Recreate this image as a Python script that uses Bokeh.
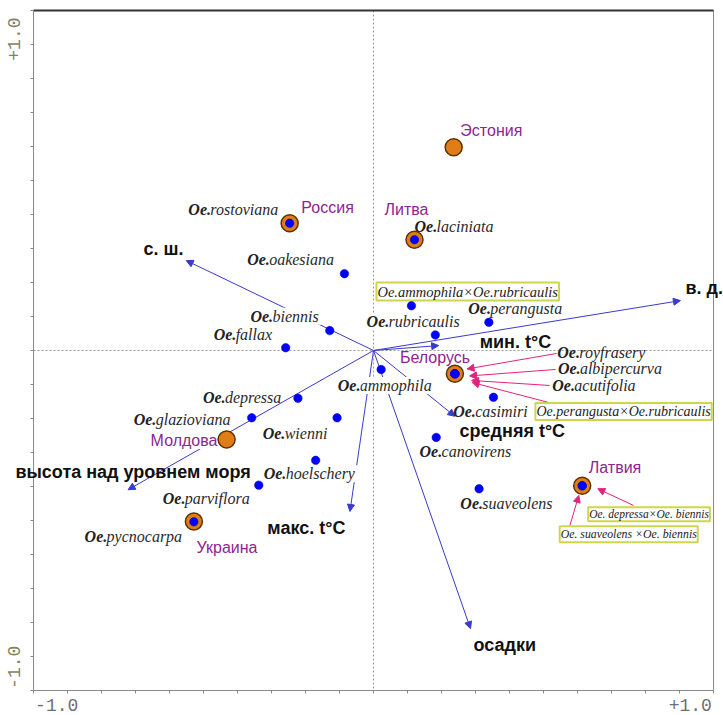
from bokeh.plotting import figure
from bokeh.models import (Range1d, FixedTicker, CustomJSTickFormatter, LinearAxis, Span,
                          ColumnDataSource, Arrow, NormalHead)
from bokeh.core.properties import value
from bokeh.embed import file_html
from bokeh.resources import INLINE

# ---------------- data (ordination scores) ----------------
species_labels = ["Oe.rostoviana", "Oe. oakesiana", "Oe. biennis", "Oe. fallax",
                  "Oe. laciniata", "Oe.perangusta", "Oe.rubricaulis", "Oe.ammophila",
                  "Oe. casimiri", "Oe. canovirens", "Oe. suaveolens", "Oe. depressa",
                  "Oe. glazioviana", "Oe. wienni", "Oe. hoelschery", "Oe.parviflora",
                  "Oe. pycnocarpa", "Oe.royfrasery", "Oe.albipercurva", "Oe.acutifolia"]
species_x = [-0.274, -0.095, -0.143, -0.287, 0.134, 0.377, 0.202, 0.025,
             0.392, 0.205, 0.345, -0.247, -0.398, -0.119, -0.189, -0.375,
             -0.587, 0.266, 0.266, 0.266]
species_y = [0.416, 0.251, 0.065, 0.009, 0.362, 0.092, 0.051, -0.062,
             -0.153, -0.284, -0.452, -0.156, -0.220, -0.220, -0.359, -0.440,
             -0.560, -0.076, -0.076, -0.076]

hybrid_labels = ["Oe.ammophila×Oe.rubricaulis", "Oe.perangusta×Oe.rubricaulis",
                 "Oe. depressa×Oe. biennis", "Oe. suaveolens ×Oe. biennis"]
hybrid_x = [0.124, 0.266, 0.682, 0.682]
hybrid_y = [0.146, -0.076, -0.442, -0.442]

country_labels = ["Россия", "Эстония", "Литва", "Белорусь", "Латвия", "Молдова", "Украина"]
country_x = [-0.274, 0.262, 0.134, 0.266, 0.682, -0.480, -0.587]
country_y = [0.416, 0.664, 0.362, -0.076, -0.442, -0.291, -0.559]

env_labels = ["с. ш.", "в. д.", "мин. t°C", "средняя t°C", "осадки", "макс. t°C",
              "высота над уровнем моря"]
env_x = [-0.612, 1.003, 0.213, 0.266, 0.317, -0.077, -0.802]
env_y = [0.294, 0.163, 0.016, -0.215, -0.909, -0.526, -0.455]

# ---------------- layout (label placement in screen pixels) ----------------
PX = 306.0  # pixels per data unit in the 680px frame (range +-10/9)
species_off = {
    "Oe.rostoviana": (-101.3, 13.7), "Oe. oakesiana": (-97.3, 14), "Oe. biennis": (-79.3, 14.3),
    "Oe. fallax": (-72, 13.3), "Oe. laciniata": (0, 13.3), "Oe.perangusta": (-20.6, 13.4),
    "Oe.rubricaulis": (-68.7, 13.3), "Oe.ammophila": (-43.4, -16), "Oe. casimiri": (-40.3, -14),
    "Oe. canovirens": (-16.7, -14), "Oe. suaveolens": (-18.7, -14.4), "Oe. depressa": (-95, 1),
    "Oe. glazioviana": (-118, -2), "Oe. wienni": (-74.4, -15.4), "Oe. hoelschery": (-52, -13.3),
    "Oe.parviflora": (-96, -13.6), "Oe. pycnocarpa": (-109.3, -15), "Oe.royfrasery": (102.4, 21.6),
    "Oe.albipercurva": (103, 5), "Oe.acutifolia": (97.4, -11.7),
}
masked = {"Oe. biennis", "Oe.ammophila", "Oe. hoelschery", "Oe.rubricaulis"}
hybrid_off = {
    "Oe.ammophila×Oe.rubricaulis": (-35, 14.3), "Oe.perangusta×Oe.rubricaulis": (80.5, -37.7),
    "Oe. depressa×Oe. biennis": (6, -28.4), "Oe. suaveolens ×Oe. biennis": (-22.5, -48.4),
}
hybrid_size = {"Oe.ammophila×Oe.rubricaulis": "14.5px", "Oe.perangusta×Oe.rubricaulis": "14px",
               "Oe. depressa×Oe. biennis": "11.5px", "Oe. suaveolens ×Oe. biennis": "11.8px"}
pointer = {  # start / end offsets of the pink pointers
    "Oe.royfrasery": ((101.7, 20.3), (12.2, 4.8)),
    "Oe.albipercurva": ((100.7, 4.3), (14.7, -2.2)),
    "Oe.acutifolia": ((94.7, -11.7), (16.7, -6.7)),
    "Oe.perangusta×Oe.rubricaulis": ((93.7, -28.7), (17.2, -8.7)),
    "Oe. depressa×Oe. biennis": ((51.3, -19.7), (15.6, -3)),
    "Oe. suaveolens ×Oe. biennis": ((-12.4, -40.2), (-3.4, -9.7)),
}
country_off = {"Россия": (11.7, 15.7), "Эстония": (6.7, 16.7), "Литва": (-30, 30),
               "Белорусь": (-55, 16.6), "Латвия": (6.6, 18), "Молдова": (-76, -1),
               "Украина": (2.7, -25.7)}
country_masked = {"Молдова"}
env_off = {"с. ш.": (-42.7, 11.7), "в. д.": (5, 12.7), "мин. t°C": (41, 3.3),
           "средняя t°C": (4.7, -15), "осадки": (3, -16.7), "макс. t°C": (-82.6, -16.7),
           "высота над уровнем моря": (-112.7, 17.6)}

BLUE = "#0000ff"
ARROW = "#3a3acc"
PINK = "#e3237d"
PURPLE = "#8e2590"
SERIF = "Liberation Serif"
SANS = "Liberation Sans"
LIM = 10.0 / 9.0

p = figure(frame_width=680, frame_height=680,
           x_range=Range1d(-LIM, LIM), y_range=Range1d(-LIM, LIM),
           output_backend="svg", toolbar_location=None,
           min_border_left=33, min_border_right=10, min_border_top=10, min_border_bottom=20)
p.grid.visible = False
p.outline_line_color = "#8a8a8a"
p.background_fill_color = "white"

ticks = [k / 9.0 for k in range(-10, 11)]
for ax, lo, hi in ((p.xaxis[0], "-1.0\u00a0\u00a0", "\u00a0\u00a0+1.0"),
                   (p.yaxis[0], "-1.0\u00a0\u00a0", "\u00a0+1.0")):
    ax.ticker = FixedTicker(ticks=ticks)
    ax.formatter = CustomJSTickFormatter(args=dict(lo=lo, hi=hi), code="""
        if (Math.abs(tick - 1) < 1e-6) return hi;
        if (Math.abs(tick + 1) < 1e-6) return lo;
        return "";
    """)
    ax.axis_line_color = "#8a8a8a"
    ax.major_tick_line_color = "#8a8a8a"
    ax.major_tick_out = 3
    ax.major_tick_in = 0
    ax.minor_tick_line_color = None
    ax.major_label_text_font = "Liberation Mono"
    ax.major_label_text_font_size = "18px"
p.xaxis.major_label_text_color = "#707070"
p.yaxis.major_label_text_color = "#867f66"
p.xaxis.major_label_standoff = 2
p.yaxis.major_label_standoff = 6
p.yaxis.major_label_orientation = "vertical"

top = LinearAxis(ticker=FixedTicker(ticks=[]), axis_line_color="#333333", axis_line_width=2,
                 major_tick_line_color=None, minor_tick_line_color=None,
                 major_label_text_font_size="0px")
p.add_layout(top, "above")

p.add_layout(Span(location=0, dimension="height", line_color="#9a9a9a", line_dash="2 2",
                  line_width=1, level="underlay"))
p.add_layout(Span(location=0, dimension="width", line_color="#9a9a9a", line_dash="2 2",
                  line_width=1, level="underlay"))

# environmental arrows
n = len(env_x)
esrc = ColumnDataSource(dict(x0=[0.0] * n, y0=[0.0] * n, x1=env_x, y1=env_y))
p.add_layout(Arrow(source=esrc, x_start="x0", y_start="y0", x_end="x1", y_end="y1",
                   line_color=ARROW, line_width=1, level="underlay",
                   end=NormalHead(size=7, fill_color=ARROW, line_color=ARROW, line_width=1)))

# pink pointers
all_lab = species_labels + hybrid_labels
all_x = species_x + hybrid_x
all_y = species_y + hybrid_y
ps = dict(x0=[], y0=[], x1=[], y1=[])
for t, x, y in zip(all_lab, all_x, all_y):
    if t in pointer:
        (sx, sy), (ex, ey) = pointer[t]
        ps["x0"].append(x + sx / PX); ps["y0"].append(y + sy / PX)
        ps["x1"].append(x + ex / PX); ps["y1"].append(y + ey / PX)
p.add_layout(Arrow(source=ColumnDataSource(ps), x_start="x0", y_start="y0", x_end="x1", y_end="y1",
                   line_color=PINK, line_width=1, level="underlay",
                   end=NormalHead(size=7, fill_color=PINK, line_color=PINK, line_width=1)))

# species labels ("Oe." bold italic + epithet italic)
OE_W = 22.0
lsrc = dict(x=[], y=[], pre=[], rest=[], bga=[])
for t, x, y in zip(species_labels, species_x, species_y):
    dx, dy = species_off[t]
    lsrc["x"].append(x + dx / PX); lsrc["y"].append(y + dy / PX)
    lsrc["pre"].append(t[:3]); lsrc["rest"].append(t[3:])
    lsrc["bga"].append(1.0 if t in masked else 0.0)
lsrc = ColumnDataSource(lsrc)
p.text(x="x", y="y", text="rest", source=lsrc, x_offset=OE_W,
       text_font=value(SERIF), text_font_style="italic", text_font_size="16px",
       text_color="#2a2a2a", text_align="left", text_baseline="middle",
       background_fill_color="white", background_fill_alpha="bga")
p.text(x="x", y="y", text="pre", source=lsrc,
       text_font=value(SERIF), text_font_style="bold italic", text_font_size="16px",
       text_color="#222222", text_align="left", text_baseline="middle",
       background_fill_color="white", background_fill_alpha="bga")

# hybrid boxed labels
hs = dict(x=[], y=[], text=[], fs=[])
for t, x, y in zip(hybrid_labels, hybrid_x, hybrid_y):
    dx, dy = hybrid_off[t]
    hs["x"].append(x + dx / PX); hs["y"].append(y + dy / PX); hs["text"].append(t)
    hs["fs"].append(hybrid_size[t])
p.text(x="x", y="y", text="text", source=ColumnDataSource(hs),
       text_font=value(SERIF), text_font_style="italic", text_font_size="fs",
       text_color="#222222", text_align="left", text_baseline="middle",
       background_fill_color="white", border_line_color="#cfd64e", border_line_width=2,
       padding=1)

# country labels
cs = dict(x=[], y=[], text=[], bga=[])
for t, x, y in zip(country_labels, country_x, country_y):
    dx, dy = country_off[t]
    cs["x"].append(x + dx / PX); cs["y"].append(y + dy / PX); cs["text"].append(t)
    cs["bga"].append(1.0 if t in country_masked else 0.0)
p.text(x="x", y="y", text="text", source=ColumnDataSource(cs),
       text_font=value(SANS), text_font_size="16px", text_color=PURPLE,
       text_align="left", text_baseline="middle",
       background_fill_color="white", background_fill_alpha="bga")

# environmental labels (some extend beyond the frame -> overlay level, not clipped)
es = dict(x=[], y=[], text=[])
for t, x, y in zip(env_labels, env_x, env_y):
    dx, dy = env_off[t]
    es["x"].append(x + dx / PX); es["y"].append(y + dy / PX); es["text"].append(t)
p.text(x="x", y="y", text="text", source=ColumnDataSource(es),
       text_font=value(SANS), text_font_style="bold", text_font_size="18px",
       text_color="#111111", text_align="left", text_baseline="middle", level="overlay")

# points
p.scatter(country_x, country_y, size=17, fill_color="#e07d16", line_color="#5c3300",
          line_width=1.5)
p.scatter(all_x, all_y, size=8.5, fill_color=BLUE, line_color="#0000c8", line_width=0.5)

open("out.html", "w").write(file_html(p, INLINE))
